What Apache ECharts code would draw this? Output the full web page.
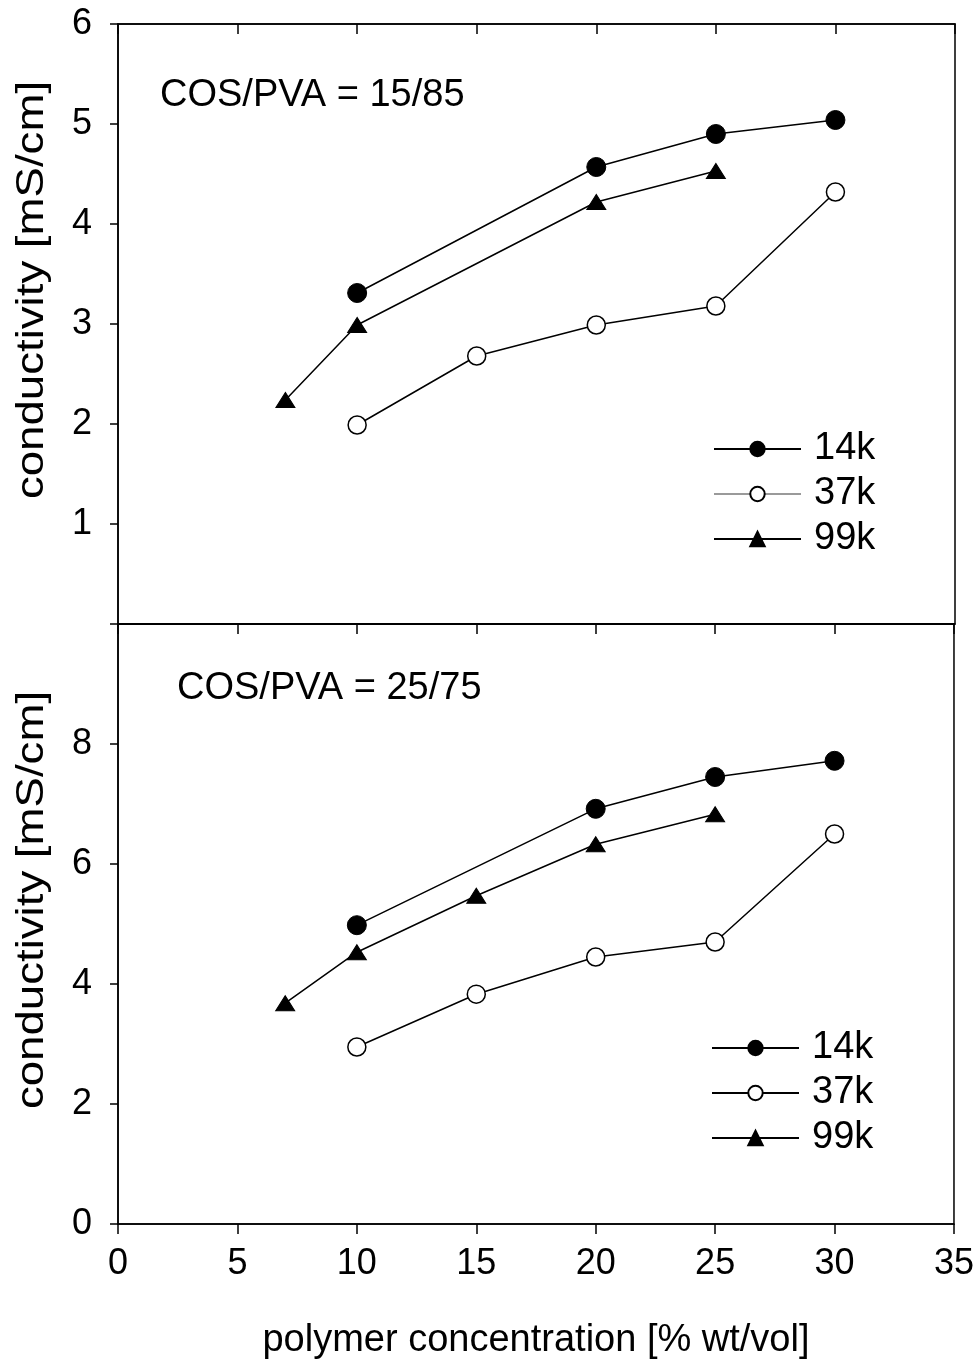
<!DOCTYPE html>
<html><head><meta charset="utf-8">
<script src="https://cdn.jsdelivr.net/npm/echarts@6/dist/echarts.min.js"></script>
<style>html,body{margin:0;padding:0;background:#fff}#c{width:977px;height:1361px}</style>
</head><body><div id="c"></div>
<script>
// Data (x = polymer concentration % wt/vol, y = conductivity mS/cm)
const top14kX = [10, 20, 25, 30];
const top14kY = [3.31, 4.57, 4.90, 5.04];
const top37kX = [10, 15, 20, 25, 30];
const top37kY = [1.99, 2.68, 2.99, 3.18, 4.32];
const top99kX = [7, 10, 20, 25];
const top99kY = [2.24, 2.99, 4.22, 4.53];

const bot14kX = [10, 20, 25, 30];
const bot14kY = [4.98, 6.92, 7.45, 7.72];
const bot37kX = [10, 15, 20, 25, 30];
const bot37kY = [2.95, 3.83, 4.45, 4.70, 6.50];
const bot99kX = [7, 10, 15, 20, 25];
const bot99kY = [3.68, 4.53, 5.47, 6.33, 6.83];

const seriesNames = ['14k', '37k', '99k'];
const panelLabels = ['COS/PVA = 15/85', 'COS/PVA = 25/75'];
const xTitle = 'polymer concentration [% wt/vol]';
const yTitle = 'conductivity [mS/cm]';

const FONT = "'Liberation Sans', Arial, sans-serif";
const pair = (xs, ys) => xs.map((x, i) => [x, ys[i]]);

const styles = {
  '14k': {symbol: 'circle', symbolSize: 19, itemStyle: {color: '#000', borderColor: '#000', borderWidth: 1}},
  '37k': {symbol: 'circle', symbolSize: 18, itemStyle: {color: '#fff', borderColor: '#000', borderWidth: 1.5}},
  '99k': {symbol: 'triangle', symbolSize: [19, 15], itemStyle: {color: '#000', borderColor: '#000', borderWidth: 1}}
};
function mk(name, data, gi) {
  return Object.assign({
    type: 'line', name: name, data: data, xAxisIndex: gi * 2, yAxisIndex: gi,
    lineStyle: {color: '#000', width: 1.5}, z: 3, animation: false
  }, styles[name]);
}

const gridL = 118, gridW = 837;
const chart = echarts.init(document.getElementById('c'));
const axisLineS = {lineStyle: {color: '#000', width: 1.5}};
function xPair(gi, showLabels) {
  return [
    {type: 'value', gridIndex: gi, min: 0, max: 35, interval: 5, position: 'bottom',
     axisLine: axisLineS, axisTick: {show: showLabels, inside: false, length: 10, lineStyle: {color: '#000', width: 1.5}},
     axisLabel: {show: showLabels, fontFamily: FONT, fontSize: 36, color: '#000', margin: 22},
     splitLine: {show: false},
     name: showLabels ? xTitle : '', nameLocation: 'middle', nameGap: 98,
     nameTextStyle: {fontFamily: FONT, fontSize: 38, color: '#000'}},
    {type: 'value', gridIndex: gi, min: 0, max: 35, interval: 5, position: 'top',
     axisLine: axisLineS, axisTick: {show: true, inside: true, length: 10, lineStyle: {color: '#000', width: 1.5}},
     axisLabel: {show: false}, splitLine: {show: false}}
  ];
}
function legendCfg(top, left, grayMid) {
  return {orient: 'vertical', left: left, top: top, itemWidth: 87, itemHeight: 18, itemGap: 7,
    selectedMode: false,
    data: [
      {name: seriesNames[0]},
      grayMid ? {name: seriesNames[1], lineStyle: {color: '#9a9a9a'}} : {name: seriesNames[1]},
      {name: seriesNames[2]}
    ],
    textStyle: {fontFamily: FONT, fontSize: 38, color: '#000', padding: [0, 0, 0, 8]}};
}
const option = {
  backgroundColor: '#fff',
  animation: false,
  grid: [
    {left: gridL, top: 24, width: gridW, height: 600, show: true, borderColor: '#000', borderWidth: 1.5, backgroundColor: 'transparent'},
    {left: gridL, top: 624, width: gridW, height: 601, show: true, borderColor: '#000', borderWidth: 1.5, backgroundColor: 'transparent'}
  ],
  xAxis: [].concat(xPair(0, false), xPair(1, true)),
  yAxis: [
    {type: 'value', gridIndex: 0, min: 0, max: 6, interval: 1,
     axisLine: axisLineS, axisTick: {length: 8, lineStyle: {color: '#000', width: 1.5}},
     axisLabel: {fontFamily: FONT, fontSize: 36, color: '#000', margin: 26, formatter: v => v === 0 ? '' : String(v)},
     splitLine: {show: false}},
    {type: 'value', gridIndex: 1, min: 0, max: 10, interval: 2,
     axisLine: axisLineS, axisTick: {length: 8, lineStyle: {color: '#000', width: 1.5}},
     axisLabel: {fontFamily: FONT, fontSize: 36, color: '#000', margin: 26, formatter: v => v === 10 ? '' : String(v)},
     splitLine: {show: false}}
  ],
  legend: [legendCfg(425, 708, true), legendCfg(1024, 706, false)],
  graphic: [
    {type: 'text', left: 160, top: 77, style: {text: panelLabels[0], font: '38px ' + FONT, fill: '#000'}},
    {type: 'text', left: 177, top: 670, style: {text: panelLabels[1], font: '38px ' + FONT, fill: '#000'}},
    {type: 'text', x: 33, y: 290, rotation: Math.PI / 2, scaleX: 1.2,
     style: {text: yTitle, font: '38px ' + FONT, fill: '#000', align: 'center', verticalAlign: 'middle'}},
    {type: 'text', x: 33, y: 900, rotation: Math.PI / 2, scaleX: 1.2,
     style: {text: yTitle, font: '38px ' + FONT, fill: '#000', align: 'center', verticalAlign: 'middle'}}
  ],
  series: [
    mk('14k', pair(top14kX, top14kY), 0),
    mk('37k', pair(top37kX, top37kY), 0),
    mk('99k', pair(top99kX, top99kY), 0),
    mk('14k', pair(bot14kX, bot14kY), 1),
    mk('37k', pair(bot37kX, bot37kY), 1),
    mk('99k', pair(bot99kX, bot99kY), 1)
  ]
};
chart.setOption(option);
</script>
</body></html>
